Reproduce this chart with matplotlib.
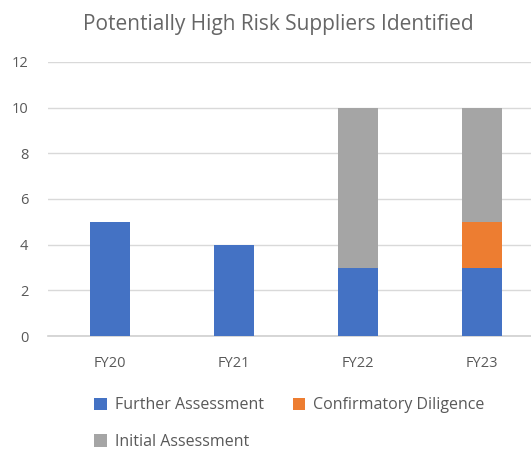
import matplotlib
import numpy as np
import matplotlib.pyplot as plt

matplotlib.rcParams['font.family'] = ['Open Sans', 'DejaVu Sans']

years = ['FY20', 'FY21', 'FY22', 'FY23']
further = [5, 4, 3, 3]
confirmatory = [0, 0, 0, 2]
initial = [0, 0, 7, 5]

c_blue = '#4472c4'
c_orange = '#ed7d31'
c_gray = '#a5a5a5'
txt = '#595959'

fig = plt.figure(figsize=(5.31, 4.72), dpi=100)
ax = fig.add_axes([0.09, 0.288, 0.91, 0.581])

x = np.arange(len(years))
w = 0.32
b1 = ax.bar(x, further, w, color=c_blue, label='Further Assessment', zorder=3)
b2 = ax.bar(x, confirmatory, w, bottom=further, color=c_orange,
            label='Confirmatory Diligence', zorder=3)
bottom2 = np.array(further) + np.array(confirmatory)
b3 = ax.bar(x, initial, w, bottom=bottom2, color=c_gray,
            label='Initial Assessment', zorder=3)

# axis runs off the right edge a little in the original
ax.set_xlim(-0.5, 3.395)
ax.set_ylim(0, 12)
ax.set_yticks(range(0, 13, 2))
ax.set_xticks(x)
ax.set_xticklabels(years)
ax.yaxis.grid(True, color='#d9d9d9', linewidth=1)
ax.set_axisbelow(True)
for s in ['top', 'right', 'left']:
    ax.spines[s].set_visible(False)
ax.spines['bottom'].set_color('#d0d0d0')
ax.spines['bottom'].set_linewidth(1.2)
ax.tick_params(axis='both', length=0, labelsize=10.5, colors=txt)
ax.tick_params(axis='x', pad=14)
ax.tick_params(axis='y', pad=14)

fig.text(0.525, 0.948, 'Potentially High Risk Suppliers Identified',
         ha='center', va='center', fontsize=15, color='#666666')

fig.legend([b1, b3, b2],
           ['Further Assessment', 'Initial Assessment', 'Confirmatory Diligence'],
           ncol=2, loc='upper left', bbox_to_anchor=(0.165, 0.172),
           frameon=False, fontsize=11.5, labelcolor=txt,
           handlelength=0.8, handleheight=0.8, handletextpad=0.5,
           columnspacing=1.8, labelspacing=1.3, borderaxespad=0)

fig.savefig('out.png', dpi=100)
